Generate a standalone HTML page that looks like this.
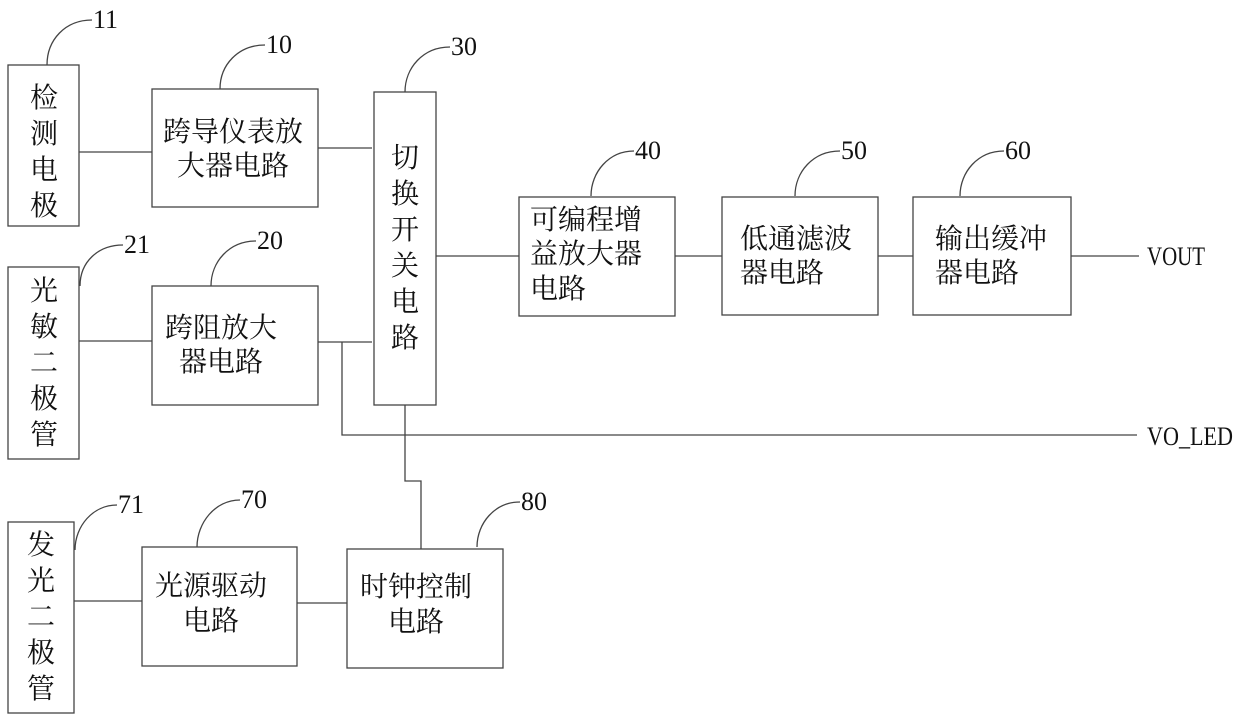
<!DOCTYPE html>
<html><head><meta charset="utf-8"><style>
body{margin:0;background:#fff}
svg{display:block}
.t{font-family:"Liberation Serif","Noto Serif CJK SC",serif;font-size:28px;fill:#111}
.n{font-family:"Liberation Serif",serif;font-size:26px;fill:#111}
</style></head><body>
<svg width="1240" height="722" viewBox="0 0 1240 722" xmlns="http://www.w3.org/2000/svg">
<g fill="none" stroke="#444" stroke-width="1.3">
<rect x="8" y="65" width="71" height="161"/>
<rect x="152" y="89" width="166" height="118"/>
<rect x="374" y="92" width="62" height="313"/>
<rect x="8" y="267" width="71" height="192"/>
<rect x="152" y="286" width="166" height="119"/>
<rect x="519" y="197" width="156" height="119"/>
<rect x="722" y="197" width="156" height="118"/>
<rect x="913" y="197" width="158" height="118"/>
<rect x="8" y="522" width="66" height="191"/>
<rect x="142" y="547" width="155" height="119"/>
<rect x="347" y="549" width="156" height="119"/>
<path d="M79 152H152M318 148H372M79 341H152M318 342H372M342 342V435H1137M436 256H519M675 256H722M878 256H913M1071 256H1139M405 405V481H421V549M74 601H142M297 603H347"/>
<path d="M47 65C47 40 65 20 92 20M220 89C220 65 238 45 265 45M405 92C405 68 423 47 450 47M80 286C80 262 98 245 123 245M211 286C211 262 229 241 256 241M591 196C591 172 609 151 634 151M795 196C795 172 813 151 840 151M960 196C960 172 978 151 1004 151M75 550C75 526 93 505 117 505M197 547C197 523 215 500 240 500M477 547C477 523 495 502 520 502"/>
</g>
<g class="n">
<text x="93" y="28" textLength="25" lengthAdjust="spacingAndGlyphs">11</text>
<text x="266" y="53" textLength="26" lengthAdjust="spacingAndGlyphs">10</text>
<text x="451" y="55" textLength="26" lengthAdjust="spacingAndGlyphs">30</text>
<text x="124" y="253" textLength="26" lengthAdjust="spacingAndGlyphs">21</text>
<text x="257" y="249" textLength="26" lengthAdjust="spacingAndGlyphs">20</text>
<text x="635" y="159" textLength="26" lengthAdjust="spacingAndGlyphs">40</text>
<text x="841" y="159" textLength="26" lengthAdjust="spacingAndGlyphs">50</text>
<text x="1005" y="159" textLength="26" lengthAdjust="spacingAndGlyphs">60</text>
<text x="118" y="513" textLength="26" lengthAdjust="spacingAndGlyphs">71</text>
<text x="241" y="508" textLength="26" lengthAdjust="spacingAndGlyphs">70</text>
<text x="521" y="510" textLength="26" lengthAdjust="spacingAndGlyphs">80</text>
<text x="1147" y="265" textLength="58" lengthAdjust="spacingAndGlyphs">VOUT</text>
<text x="1147" y="445" textLength="86" lengthAdjust="spacingAndGlyphs">VO_LED</text>
</g>
<g class="t">
<text x="30" y="107">检</text><text x="30" y="143">测</text><text x="30" y="179">电</text><text x="30" y="215">极</text>
<text x="163" y="141">跨导仪表放</text><text x="177" y="175">大器电路</text>
<text x="391" y="167">切</text><text x="391" y="203">换</text><text x="391" y="239">开</text><text x="391" y="275">关</text><text x="391" y="311">电</text><text x="391" y="347">路</text>
<text x="30" y="300">光</text><text x="30" y="336">敏</text><text x="30" y="372">二</text><text x="30" y="408">极</text><text x="30" y="444">管</text>
<text x="165" y="337">跨阻放大</text><text x="179" y="371">器电路</text>
<text x="530" y="229">可编程增</text><text x="530" y="263">益放大器</text><text x="530" y="298">电路</text>
<text x="740" y="248">低通滤波</text><text x="740" y="282">器电路</text>
<text x="935" y="248">输出缓冲</text><text x="935" y="282">器电路</text>
<text x="27" y="554">发</text><text x="27" y="590">光</text><text x="27" y="626">二</text><text x="27" y="662">极</text><text x="27" y="698">管</text>
<text x="155" y="595">光源驱动</text><text x="183" y="630">电路</text>
<text x="360" y="596">时钟控制</text><text x="388" y="631">电路</text>
</g>
</svg>
</body></html>
